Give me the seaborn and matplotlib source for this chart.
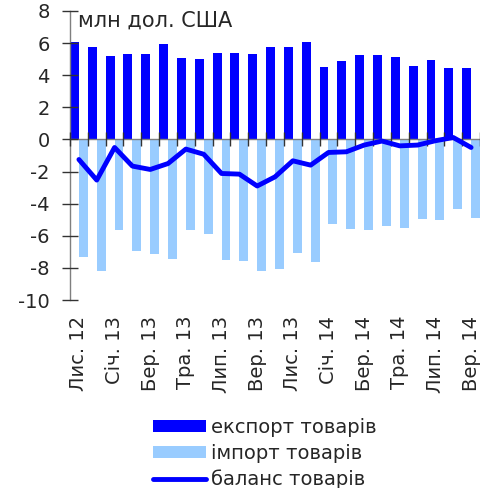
import numpy as np
import pandas as pd
import matplotlib
matplotlib.use("Agg")
import matplotlib.pyplot as plt
import seaborn as sns
from matplotlib.patches import Patch
from matplotlib.lines import Line2D

months = ["Лис. 12", "Гру. 12", "Січ. 13", "Лют. 13", "Бер. 13", "Кві. 13", "Тра. 13", "Чер. 13",
          "Лип. 13", "Сер. 13", "Вер. 13", "Жов. 13", "Лис. 13", "Гру. 13", "Січ. 14", "Лют. 14",
          "Бер. 14", "Кві. 14", "Тра. 14", "Чер. 14", "Лип. 14", "Сер. 14", "Вер. 14"]
export = [6.1, 5.75, 5.2, 5.3, 5.3, 5.95, 5.1, 4.98, 5.4, 5.38, 5.33, 5.77, 5.75, 6.07,
          4.54, 4.86, 5.29, 5.27, 5.15, 4.58, 4.97, 4.42, 4.45]
imports = [-7.32, -8.2, -5.67, -6.93, -7.12, -7.45, -5.65, -5.88, -7.5, -7.56, -8.22, -8.08,
           -7.06, -7.66, -5.27, -5.56, -5.65, -5.36, -5.52, -4.94, -5.0, -4.34, -4.92]
balance = [-1.25, -2.53, -0.5, -1.66, -1.87, -1.5, -0.6, -0.92, -2.12, -2.16, -2.9, -2.33,
           -1.33, -1.6, -0.81, -0.77, -0.35, -0.1, -0.4, -0.35, -0.08, 0.12, -0.5]
series_names = ["експорт товарів", "імпорт товарів", "баланс товарів"]
unit_label = "млн дол. США"

c_exp = "#0000FF"
c_imp = "#99CCFF"
c_bal = "#0000FF"

sns.set_style("ticks")
plt.rcParams['font.family'] = ['DejaVu Sans']

df = pd.DataFrame({
    "month": months * 2,
    "value": export + imports,
    "series": [series_names[0]] * len(months) + [series_names[1]] * len(months),
})

fig = plt.figure(figsize=(4.8, 4.88), dpi=100)
ax = fig.add_axes([70 / 480, 1 - 300 / 488, 1 - 70 / 480, 289 / 488])

sns.barplot(data=df, x="month", y="value", hue="series", order=months,
            hue_order=series_names[:2], palette=[c_exp, c_imp], width=1.0,
            dodge=True, ax=ax, legend=False, saturation=1, edgecolor="none", linewidth=0)
sns.lineplot(x=np.arange(len(months)), y=balance, ax=ax, color=c_bal, linewidth=3.5,
             legend=False, sort=False)
for l in ax.lines:
    l.set_solid_capstyle("round")
    l.set_solid_joinstyle("round")
    l.set_zorder(3)

ax.set_axisbelow(False)
ax.set_xlim(-0.5, len(months) - 0.5)
ax.set_ylim(-10, 8)
ax.set_yticks(np.arange(-10, 9, 2))
ax.set_yticklabels([str(v) for v in range(-10, 9, 2)])
ax.set_xlabel("")
ax.set_ylabel("")

ax.spines['bottom'].set_position(('data', 0))
ax.spines['top'].set_visible(False)
ax.spines['right'].set_visible(False)
for s in ('left', 'bottom'):
    ax.spines[s].set_color("#7f7f7f")
    ax.spines[s].set_linewidth(1.0)

ax.set_xticks(np.arange(-0.5, len(months), 1.0))
ax.set_xticklabels([])
ax.set_xticks(np.arange(0, len(months), 2), [months[i] for i in range(0, len(months), 2)],
              minor=True, rotation=90)
ax.tick_params(axis='x', which='major', direction='inout', length=10, color="#333333", width=1)
ax.tick_params(axis='x', which='minor', length=0, pad=127, labelsize=14)
ax.tick_params(axis='y', direction='inout', length=11, color="#333333", width=1, labelsize=14, pad=9)

ax.text(8 / 410, 1.0, unit_label, transform=ax.transAxes, fontsize=15, va='top', ha='left')

handles = [Patch(facecolor=c_exp, edgecolor='none'),
           Patch(facecolor=c_imp, edgecolor='none'),
           Line2D([0], [0], color=c_bal, lw=3.5, solid_capstyle='round')]
fig.legend(handles, series_names, loc='upper left', bbox_to_anchor=(153 / 480, 1 - 418 / 488),
           frameon=False, fontsize=14, handlelength=2.7, handletextpad=0.3, labelspacing=0.35,
           borderpad=0, borderaxespad=0, handleheight=0.6)

fig.savefig("out.png", dpi=100)
